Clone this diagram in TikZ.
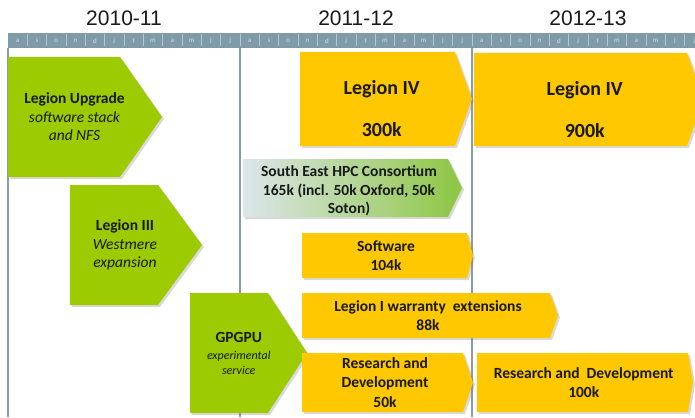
\documentclass[tikz,border=0pt]{standalone}
\usepackage{fontspec}
\setmainfont{Carlito}
\newfontfamily\yearfont{Liberation Sans}
\usepackage{xcolor}
\definecolor{phasegreen}{HTML}{9BCB00}
\definecolor{phaseyellow}{HTML}{FFC800}
\definecolor{sehpcgreen}{HTML}{8DC641}
\definecolor{mist}{HTML}{DCE6EB}
\definecolor{stripblue}{HTML}{7F9BA8}
\definecolor{stripline}{HTML}{B3C5CD}
\definecolor{monthgray}{HTML}{D5E0E5}
\definecolor{gridgray}{HTML}{8C9CA4}
\usepackage{tikz}
\usetikzlibrary{
  shadows
}

% italic second lines inside the phase boxes
\newcommand{\phasesub}{\normalfont\itshape}
\newcommand{\phasesmall}{\normalfont\itshape\fontsize{12}{15}\selectfont}

% phase box: [text options]{fill style}{name}{left x}{top y}{body width}{height}{tip depth}{text}
\newcommand{\phasebox}[9][]{%
  \path[#2, drop shadow={shadow xshift=2pt, shadow yshift=-2pt, opacity=0.3}]
    (#4,#5) -- ++(#6,0) -- ++(#8,{#7/2}) -- ++(-#8,{#7/2}) -- ++(-#6,0) -- cycle;
  \node[phasetext, #1] (#3) at ({#4+(#6+#8/2)/2},{#5+#7/2}) {#9};
}

\begin{document}
\begin{tikzpicture}[
  x=1pt, y=-1pt,
  green/.style={fill=phasegreen},
  gold/.style={fill=phaseyellow},
  fade/.style={left color=mist, right color=sehpcgreen},
  phasetext/.style={font=\bfseries\fontsize{15.5}{18.5}\selectfont, align=center, text=black!90},
  big/.style={font=\bfseries\fontsize{20}{21}\selectfont},
  yearlabel/.style={font=\yearfont\fontsize{21}{24}\selectfont, text=black!90},
  monthtext/.style={font=\fontsize{7}{8}\selectfont, text=monthgray},
  grid/.style={draw=gridgray, line width=1.2pt},
]
\useasboundingbox (0,0) rectangle (695,417);
\clip (0,0) rectangle (695,417);

% years
\node[yearlabel] (y1) at (124,18) {2010-11};
\node[yearlabel] (y2) at (356,18) {2011-12};
\node[yearlabel] (y3) at (588,18) {2012-13};

% month strip
\fill[stripblue] (8,33) rectangle (710,48);
\foreach \m [count=\i from 0] in {a,s,o,n,d,j,f,m,a,m,j,j,a,s,o,n,d,j,f,m,a,m,j,j,a,s,o,n,d,j,f,m,a,m,j,j} {
  \draw[stripline, line width=0.8pt] ({8+19.33*\i+19.33},34.5) -- ++(0,12);
  \node[monthtext] (m\i) at ({8+19.33*\i+9.67},41) {\m};
}

% year boundaries
\foreach \x in {8,240,472}
  \draw[grid] (\x,48) -- (\x,417);

% 2010-11
\phasebox{green}{upgrade}{8}{57}{112}{120}{42}{Legion Upgrade\\{\phasesub software stack}\\{\phasesub and NFS}}
\phasebox{green}{legion3}{70}{185}{88}{120}{44}{Legion III\\{\phasesub Westmere}\\{\phasesub expansion}}
\phasebox{green}{gpgpu}{190}{293}{78}{120}{39}{GPGPU\\[-1pt]{\phasesmall experimental}\\[-4pt]{\phasesmall service}}

% 2011-12 onwards
\phasebox[big, yshift=-10pt]{gold}{legion4a}{300}{52}{155}{94}{17}{Legion IV\\[21pt]300k}
\phasebox[big, yshift=-10pt]{gold}{legion4b}{474}{53}{213}{93}{17}{Legion IV\\[21pt]900k}
\phasebox[yshift=-3pt]{fade}{sehpc}{243}{159}{205}{58}{14}{South East HPC Consortium\\165k (incl. 50k Oxford, 50k\\Soton)}
\phasebox{gold}{software}{302}{233}{165}{45}{6}{Software\\104k}
\phasebox{gold}{warranty}{302}{293}{248}{45}{8}{Legion I warranty\ \ extensions\\88k}
\phasebox{gold}{rnda}{302}{353}{161}{59}{10}{Research and\\[1pt]Development\\[1pt]50k}
\phasebox{gold}{rndb}{477}{353}{211}{59}{5}{Research and\ \ Development\\100k}

\end{tikzpicture}
\end{document}
